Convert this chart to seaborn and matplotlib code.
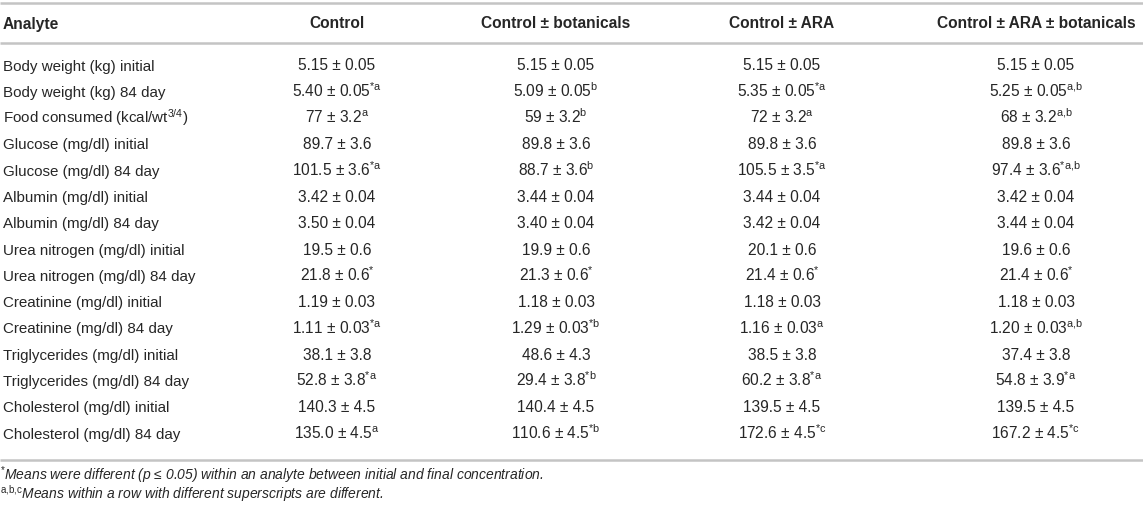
import matplotlib
matplotlib.use("Agg")
import matplotlib.pyplot as plt
import seaborn as sns

# ---------------- data ----------------
columns = ["Analyte", "Control", "Control \u00b1 botanicals", "Control \u00b1 ARA",
           "Control \u00b1 ARA \u00b1 botanicals"]

analytes = ["Body weight (kg) initial", "Body weight (kg) 84 day",
            "Food consumed (kcal/wt$^{\\mathrm{3/4}}$)",
            "Glucose (mg/dl) initial", "Glucose (mg/dl) 84 day",
            "Albumin (mg/dl) initial", "Albumin (mg/dl) 84 day",
            "Urea nitrogen (mg/dl) initial", "Urea nitrogen (mg/dl) 84 day",
            "Creatinine (mg/dl) initial", "Creatinine (mg/dl) 84 day",
            "Triglycerides (mg/dl) initial", "Triglycerides (mg/dl) 84 day",
            "Cholesterol (mg/dl) initial", "Cholesterol (mg/dl) 84 day"]

control_mean = ["5.15", "5.40", "77", "89.7", "101.5", "3.42", "3.50", "19.5", "21.8",
                "1.19", "1.11", "38.1", "52.8", "140.3", "135.0"]
control_sem = ["0.05", "0.05", "3.2", "3.6", "3.6", "0.04", "0.04", "0.6", "0.6",
               "0.03", "0.03", "3.8", "3.8", "4.5", "4.5"]
control_sup = ["", "*a", "a", "", "*a", "", "", "", "*", "", "*a", "", "*a", "", "a"]

bot_mean = ["5.15", "5.09", "59", "89.8", "88.7", "3.44", "3.40", "19.9", "21.3",
            "1.18", "1.29", "48.6", "29.4", "140.4", "110.6"]
bot_sem = ["0.05", "0.05", "3.2", "3.6", "3.6", "0.04", "0.04", "0.6", "0.6",
           "0.03", "0.03", "4.3", "3.8", "4.5", "4.5"]
bot_sup = ["", "b", "b", "", "b", "", "", "", "*", "", "*b", "", "*b", "", "*b"]

ara_mean = ["5.15", "5.35", "72", "89.8", "105.5", "3.44", "3.42", "20.1", "21.4",
            "1.18", "1.16", "38.5", "60.2", "139.5", "172.6"]
ara_sem = ["0.05", "0.05", "3.2", "3.6", "3.5", "0.04", "0.04", "0.6", "0.6",
           "0.03", "0.03", "3.8", "3.8", "4.5", "4.5"]
ara_sup = ["", "*a", "a", "", "*a", "", "", "", "*", "", "a", "", "*a", "", "*c"]

both_mean = ["5.15", "5.25", "68", "89.8", "97.4", "3.42", "3.44", "19.6", "21.4",
             "1.18", "1.20", "37.4", "54.8", "139.5", "167.2"]
both_sem = ["0.05", "0.05", "3.2", "3.6", "3.6", "0.04", "0.04", "0.6", "0.6",
            "0.03", "0.03", "3.8", "3.9", "4.5", "4.5"]
both_sup = ["", "a,b", "a,b", "", "*a,b", "", "", "", "*", "", "a,b", "", "*a", "", "*c"]

footnotes = [
    "$^{\\mathrm{*}}$Means were different (p \u2264 0.05) within an analyte between initial and final concentration.",
    "$^{\\mathrm{a{,}b{,}c}}$Means within a row with different superscripts are different.",
]

# ---------------- style ----------------
sns.set_theme(style="white")
plt.rcParams["font.family"] = ["Liberation Sans", "DejaVu Sans"]
plt.rcParams["mathtext.fontset"] = "custom"
plt.rcParams["mathtext.rm"] = "Liberation Sans"
plt.rcParams["mathtext.it"] = "Liberation Sans:italic"
plt.rcParams["mathtext.bf"] = "Liberation Sans:bold"

W, H = 1143, 505
fig = plt.figure(figsize=(W / 100, H / 100), dpi=100)
ax = fig.add_axes([0, 0, 1, 1])
ax.set_xlim(0, W)
ax.set_ylim(H, 0)
ax.set_axis_off()
sns.despine(ax=ax, left=True, bottom=True)

TXT = "#262626"
RULE = "#c4c4c4"
FS = 10.9
FS_NUM = 11.2

col_x = [3, 337, 556, 782, 1036]
header_base = 28.5
first_base = 70.5
row_h = 26.3

# rules
for yy in (3, 43, 460):
    ax.plot([0, W], [yy, yy], color=RULE, lw=1.8, solid_capstyle="butt")

# header
for j, name in enumerate(columns):
    ax.text(col_x[j], header_base, name, ha="left" if j == 0 else "center",
            va="baseline", fontsize=FS + 0.3, fontweight="bold", color=TXT)


def cell(m, s, sup):
    t = f"{m} \u00b1 {s}"
    if sup:
        t += "$^{\\mathrm{" + sup.replace(",", "{,}") + "}}$"
    return t


groups = [(control_mean, control_sem, control_sup),
          (bot_mean, bot_sem, bot_sup),
          (ara_mean, ara_sem, ara_sup),
          (both_mean, both_sem, both_sup)]

for i, name in enumerate(analytes):
    y = first_base + i * row_h
    ax.text(col_x[0], y, name, ha="left", va="baseline", fontsize=FS, color=TXT)
    for j, (m, s, sp) in enumerate(groups):
        ax.text(col_x[j + 1], y, cell(m[i], s[i], sp[i]), ha="center", va="baseline",
                fontsize=FS_NUM, color=TXT)

for k, fn in enumerate(footnotes):
    ax.text(0, 479.5 + k * 19.5, fn, ha="left", va="baseline", fontsize=10.0,
            style="italic", color=TXT)

fig.savefig("out.png", dpi=100)
